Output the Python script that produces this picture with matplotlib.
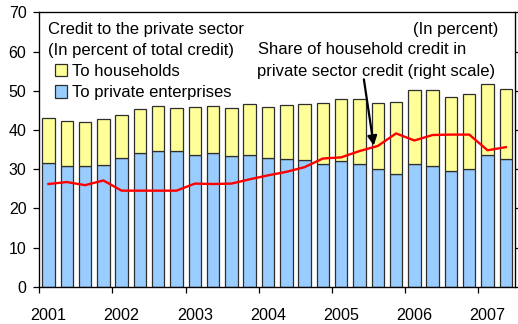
import matplotlib
matplotlib.use("Agg")
import matplotlib.pyplot as plt
import numpy as np

plt.rcParams['font.family'] = ['Liberation Sans', 'DejaVu Sans']

# Quarterly credit shares, 2001Q1 - 2007Q2 (percent of total credit)
total_private = [43.1, 42.3, 42.0, 42.7, 43.9, 45.4, 46.2, 45.7, 45.9, 46.2,
                 45.6, 46.7, 45.8, 46.4, 46.6, 46.8, 48.0, 47.8, 46.9, 47.2,
                 50.2, 50.2, 48.5, 49.2, 51.6, 50.5]
enterprises = [31.6, 30.8, 30.9, 31.1, 32.9, 34.2, 34.7, 34.5, 33.6, 34.0,
               33.4, 33.7, 32.9, 32.6, 32.4, 31.3, 32.0, 31.2, 30.1, 28.8,
               31.4, 30.8, 29.6, 30.1, 33.7, 32.5]
households = [t - e for t, e in zip(total_private, enterprises)]
# Household share in private sector credit (right scale, percent)
hh_share = [26.2, 26.7, 25.9, 27.1, 24.5, 24.5, 24.5, 24.5, 26.3, 26.2,
            26.3, 27.4, 28.4, 29.3, 30.5, 32.7, 33.0, 34.6, 35.9, 39.1,
            37.3, 38.7, 38.8, 38.8, 34.8, 35.6]
years = ['2001', '2002', '2003', '2004', '2005', '2006', '2007']

BLUE = '#99CCFF'
YELLOW = '#FFFF99'
EDGE = '#2e2e2e'

fig = plt.figure(figsize=(5.18, 3.24), dpi=100)
ax = fig.add_axes([39.3 / 518, 37.3 / 324, 475.7 / 518, 274.4 / 324])

x = np.arange(len(total_private))
w = 0.68
b_ent = ax.bar(x, enterprises, width=w, color=BLUE, edgecolor=EDGE, linewidth=0.9, zorder=2)
b_hh = ax.bar(x, households, width=w, bottom=enterprises, color=YELLOW,
              edgecolor=EDGE, linewidth=0.9, zorder=2)

ax.set_xlim(-0.5, len(x) - 0.5)
ax.set_ylim(0, 70)
ax.set_yticks(np.arange(0, 71, 10))
ax.tick_params(axis='y', direction='out', length=4.3, width=0.9, pad=5, labelsize=11.5)

# Year boundaries as tick marks, year names under each year's first quarter
ax.set_xticks(np.arange(-0.5, len(x) - 1, 4))
ax.set_xticklabels([])
ax.set_xticks(np.arange(0, len(x), 4), minor=True)
ax.set_xticklabels(years, minor=True)
ax.tick_params(axis='x', which='major', direction='out', length=4, width=0.9)
ax.tick_params(axis='x', which='minor', length=0, pad=15, labelsize=11.6)
for s in ax.spines.values():
    s.set_linewidth(0.9)

ax2 = ax.twinx()
ax2.set_ylim(0, 70)
ax2.set_yticks(np.arange(0, 71, 10))
ax2.set_yticklabels([])
ax2.tick_params(axis='y', direction='out', length=4.3, width=0.9)
ax2.plot(x, hh_share, color='#FF0000', linewidth=1.7, zorder=3)

fs = 12
ax.text(0.0183, 0.939, 'Credit to the private sector', transform=ax.transAxes,
        ha='left', va='center', fontsize=fs)
ax.text(0.0183, 0.859, '(In percent of total credit)', transform=ax.transAxes,
        ha='left', va='center', fontsize=fs)
ax.text(0.9645, 0.939, '(In percent)', transform=ax.transAxes,
        ha='right', va='center', fontsize=fs)
ax.text(0.4597, 0.863, 'Share of household credit in', transform=ax.transAxes,
        ha='left', va='center', fontsize=fs)
ax.text(0.4576, 0.786, 'private sector credit (right scale)', transform=ax.transAxes,
        ha='left', va='center', fontsize=fs)

ax2.annotate('', xy=(17.78, 36.0), xytext=(17.24, 52.9),
             arrowprops=dict(arrowstyle='-|>', color='black', lw=1.6,
                             mutation_scale=14, shrinkA=0, shrinkB=0))

ax.legend([b_hh, b_ent], ['To households', 'To private enterprises'],
          loc='upper left', bbox_to_anchor=(0.032, 0.812), frameon=False,
          fontsize=fs, handlelength=0.75, handleheight=0.75, handletextpad=0.3,
          labelspacing=0.38, borderpad=0, borderaxespad=0)

fig.savefig('out.png', dpi=100)
